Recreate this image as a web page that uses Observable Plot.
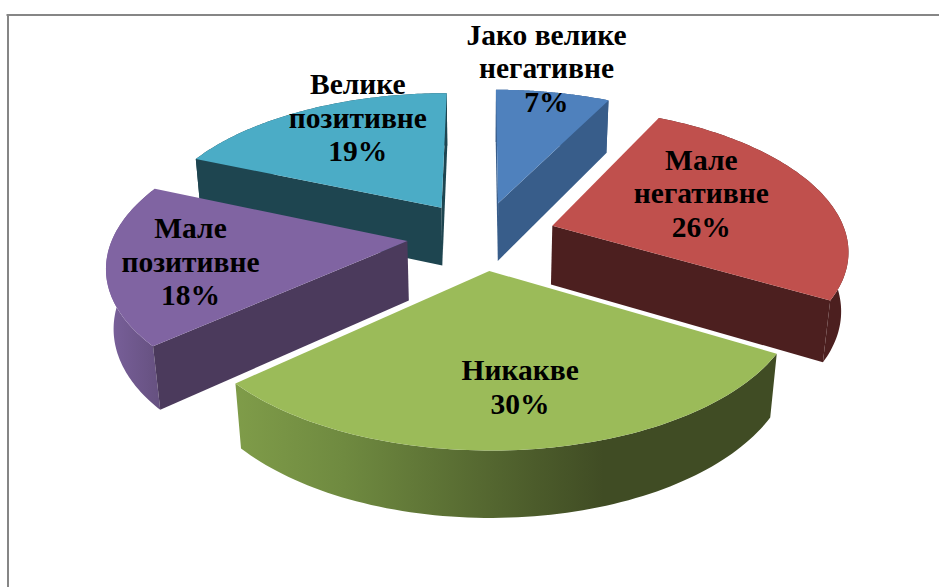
<!DOCTYPE html>
<html>
<head>
<meta charset="utf-8">
<style>html,body{margin:0;padding:0;background:#fff}svg{display:block}</style>
<script src="https://cdn.jsdelivr.net/npm/d3@7"></script>
<script src="https://cdn.jsdelivr.net/npm/@observablehq/plot@0.6"></script>
</head>
<body>
<script>
const categories = ["Јако велике\nнегативне", "Мале\nнегативне", "Никакве", "Мале\nпозитивне", "Велике\nпозитивне"];
const shares = [7.4, 26, 30, 18, 18.6];
const topColors = ["#4f81bd", "#c0504d", "#9bbb59", "#8064a2", "#4bacc6"];
const sideColors = ["#385d8a", "#4c1f1f", "#404c24", "#4b3a5c", "#1e4550"];
const rimColors = ["#385d8a", "#4c1f1f", "url(#rimGreen)", "url(#rimPurple)", "#1e4550"];
const paintOrder = [4, 0, 3, 1, 2];

// label placement in pie units, measured from each slice's own apex
const labelRadius = [1.228, 0.588, 0.698, 0.726, 0.825];
const labelTurn = [-3.4, -7, -1.4, -2.5, 9];

// viewing model of the tilted, exploded pie
const W = 939, H = 587;
const view = {cx: 481, cy: 235, rx: 294, ry: 140, tilt: 0.153, sink: 0.02, depth: 0.43, ex: 0.254, ey: 0.245};
const project = (u, v, z = 0) => {
  const w = 1 + view.tilt * v + view.sink * z;
  return {x: u / w, y: (v - view.depth * z) / w};
};

const total = d3.sum(shares);
const deg = Math.PI / 180;
let running = 0;
const slices = shares.map((s, i) => {
  const a0 = running / total * 2 * Math.PI;
  running += s;
  const a1 = running / total * 2 * Math.PI;
  const mid = (a0 + a1) / 2;
  return {i, a0, a1, mid, ax: view.ex * Math.sin(mid), ay: view.ey * Math.cos(mid)};
});

function arcPoints(sl, z, reverse) {
  const n = 80, pts = [];
  for (let k = 0; k <= n; k++) {
    const a = sl.a0 + (sl.a1 - sl.a0) * k / n;
    pts.push(project(sl.ax + Math.sin(a), sl.ay + Math.cos(a), z));
  }
  return reverse ? pts.reverse() : pts;
}
const apex = (sl, z) => project(sl.ax, sl.ay, z);
const rim = (sl, a, z) => project(sl.ax + Math.sin(a), sl.ay + Math.cos(a), z);
const face = (pts, fill) => Plot.line(pts, {x: "x", y: "y", fill, stroke: "none"});
const signedArea = pts => d3.sum(pts, (p, k) => {
  const q = pts[(k + 1) % pts.length];
  return p.x * q.y - q.x * p.y;
});

const marks = [];
for (const i of paintOrder) {
  const sl = slices[i];
  marks.push(face([...arcPoints(sl, 0, false), ...arcPoints(sl, 1, true)], rimColors[i]));
  const start = [apex(sl, 0), rim(sl, sl.a0, 0), rim(sl, sl.a0, 1), apex(sl, 1)];
  const end = [apex(sl, 0), rim(sl, sl.a1, 0), rim(sl, sl.a1, 1), apex(sl, 1)];
  if (signedArea(start) > 0) marks.push(face(start, sideColors[i]));
  if (signedArea(end) < 0) marks.push(face(end, sideColors[i]));
  marks.push(face([apex(sl, 0), ...arcPoints(sl, 0, false)], topColors[i]));
}

const labels = slices.map(sl => {
  const a = sl.mid + labelTurn[sl.i] * deg, r = labelRadius[sl.i];
  const p = project(sl.ax + r * Math.sin(a), sl.ay + r * Math.cos(a));
  return {...p, text: `${categories[sl.i]}\n${Math.round(shares[sl.i])}%`};
});

function gradient(id, stops) {
  return `<linearGradient id="${id}" x1="0" x2="1" y1="0" y2="0">` +
    stops.map(([o, c]) => `<stop offset="${o}" stop-color="${c}"/>`).join("") + `</linearGradient>`;
}
const defsMark = () => {
  const g = document.createElementNS("http://www.w3.org/2000/svg", "defs");
  g.innerHTML =
    gradient("rimGreen", [[0, "#7f9c49"], [0.2, "#6f8a40"], [0.55, "#4c5c2b"], [0.68, "#404c24"], [1, "#404c24"]]) +
    gradient("rimPurple", [[0, "#7a619c"], [1, "#65507f"]]);
  return g;
};

const chart = Plot.plot({
  width: W, height: H,
  marginLeft: 8, marginTop: 15, marginRight: 0, marginBottom: 0,
  x: {domain: [-view.cx / view.rx, (W - view.cx) / view.rx], range: [0, W], axis: null},
  y: {domain: [view.cy / view.ry, (view.cy - H) / view.ry], range: [0, H], axis: null},
  marks: [
    defsMark,
    Plot.frame({anchor: "left", stroke: "#868686", strokeWidth: 2, dx: -0.5}),
    Plot.frame({anchor: "top", stroke: "#868686", strokeWidth: 2, dy: -0.5, insetLeft: -1}),
    ...marks,
    Plot.text(labels, {
      x: "x", y: "y", text: "text", fill: "#000", fontWeight: "bold",
      fontFamily: "'Liberation Serif', serif", fontSize: 29.5, lineHeight: 1.14, textAnchor: "middle", dy: -2
    })
  ]
});
document.body.appendChild(chart);
</script>
</body>
</html>
